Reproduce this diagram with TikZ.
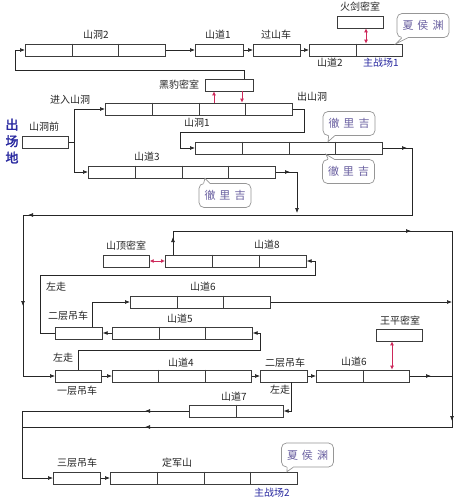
\documentclass[tikz,border=0pt]{standalone}
\usepackage{fontspec}
\setmainfont{Noto Sans CJK SC}
\newfontfamily\cjkbold{Noto Sans CJK SC}[FakeBold=2]
\usetikzlibrary{arrows.meta,calc}
\definecolor{boxc}{RGB}{60,60,60}
\definecolor{redc}{RGB}{205,40,90}
\definecolor{bluec}{RGB}{40,40,160}
\definecolor{callc}{RGB}{150,150,150}
\definecolor{calltxt}{RGB}{105,95,160}
\tikzset{
  >={Latex[length=5pt,width=4pt]},
  box/.style={draw=boxc, fill=white, line width=0.7pt, minimum height=12pt, inner sep=0pt, anchor=west},
  conn/.style={draw=black!85, line width=0.7pt},
  redarr/.style={draw=redc, line width=0.8pt, {Latex[length=4pt,width=4pt]}-{Latex[length=4pt,width=4pt]}},
  redone/.style={draw=redc, line width=0.8pt, -{Latex[length=4pt,width=4pt]}},
  lbl/.style={font=\fontsize{10}{11}\selectfont, text=black!85, inner sep=0pt},
  bluelbl/.style={lbl, text=bluec},
  calloutbox/.style={draw=callc, fill=white, rounded corners=5pt, line width=0.7pt, minimum width=52pt, minimum height=24pt, inner sep=0pt, text=calltxt, font=\fontsize{11}{12}\selectfont},
}
\newcommand{\segbox}[5]{%
  \node[box, minimum width=#4pt] (#1) at (#2,#3) {};
  \foreach \k in {1,...,#5} {\ifnum\k<#5
    \draw[boxc, line width=0.7pt] ($(#1.north west)!\k/#5!(#1.north east)$) -- ($(#1.south west)!\k/#5!(#1.south east)$);
  \fi}%
}
\newcommand{\ctail}[5]{%
  \fill[white] ($(#1)+(#2,#5)$) -- ($(#1)+(#2,0)$) -- (#4) -- ($(#1)+(#3,0)$) -- ($(#1)+(#3,#5)$) -- cycle;
  \draw[callc, line width=0.7pt] ($(#1)+(#2,0)$) -- (#4) -- ($(#1)+(#3,0)$);
}
% mid-line arrow head: #1 coordinate name, #2 dx, #3 dy of the tail start relative to tip
\newcommand{\midtip}[3]{\draw[conn,->] ($(#1)+(#2,#3)$) -- (#1);}
\begin{document}
\begin{tikzpicture}[x=1pt,y=-1pt]
\useasboundingbox (0,0) rectangle (461,500);
\fill[white] (0,0) rectangle (461,500);

% ---------- boxes ----------
\segbox{sd2}{25}{50}{140}{3}
\segbox{sy1}{195}{50}{48}{1}
\segbox{gsc}{253}{50}{47}{1}
\segbox{sy2}{309}{50}{93}{2}
\segbox{hj}{337}{22}{46}{1}
\segbox{hb}{205}{85}{48}{1}
\segbox{sdq}{22}{142}{46}{1}
\segbox{s1a}{105}{109}{187}{4}
\segbox{s1b}{195}{148}{187}{4}
\segbox{s3}{88}{172}{187}{4}
\segbox{sdm}{103}{261}{46}{1}
\segbox{s8}{165}{261}{141}{3}
\segbox{s6}{130}{302}{140}{3}
\segbox{elc1}{55}{333}{47}{1}
\segbox{s5}{112}{333}{140}{3}
\segbox{wp}{376}{335}{46}{1}
\segbox{ylc}{55}{376}{46}{1}
\segbox{s4}{112}{376}{139}{3}
\segbox{elc2}{260}{376}{47}{1}
\segbox{s6b}{316}{376}{93}{2}
\segbox{s7}{189}{411}{94}{2}
\segbox{slc}{53}{478}{47}{1}
\segbox{djs}{110}{478}{187}{4}

% ---------- labels ----------
\node[lbl] (t1) at (96,35) {山洞2};
\node[lbl] (t2) at (218,35) {山道1};
\node[lbl] (t3) at (276,35) {过山车};
\node[lbl] (t4) at (360,7) {火剑密室};
\node[lbl] (t5) at (330,63) {山道2};
\node[bluelbl] (t6) at (381,63) {主战场1};
\node[lbl] (t7) at (179,85) {黑豹密室};
\node[lbl] (t8) at (70,100) {进入山洞};
\node[lbl] (t9) at (44,127) {山洞前};
\node[lbl] (t10) at (312,97) {出山洞};
\node[lbl] (t11) at (197,123) {山洞1};
\node[lbl] (t12) at (147,157) {山道3};
\node[lbl] (t13) at (126,246) {山顶密室};
\node[lbl] (t14) at (267,245) {山道8};
\node[lbl] (t15) at (56,287) {左走};
\node[lbl] (t16) at (203,287) {山道6};
\node[lbl] (t17) at (68,316) {二层吊车};
\node[lbl] (t18) at (180,319) {山道5};
\node[lbl] (t19) at (400,321) {王平密室};
\node[lbl] (t20) at (63,358) {左走};
\node[lbl] (t21) at (181,363) {山道4};
\node[lbl] (t22) at (285,363) {二层吊车};
\node[lbl] (t23) at (354,362) {山道6};
\node[lbl] (t24) at (77,391) {一层吊车};
\node[lbl] (t25) at (280,390) {左走};
\node[lbl] (t26) at (234,397) {山道7};
\node[lbl] (t27) at (77,463) {三层吊车};
\node[lbl] (t28) at (177,463) {定军山};
\node[bluelbl] (t29) at (272,493) {主战场2};
\node[text=bluec, inner sep=0pt, align=center, font=\cjkbold\fontsize{13}{16.5}\selectfont] (t30) at (12,141) {出\\场\\地};

% ---------- connectors ----------
\coordinate (cL1) at (15,70);
\coordinate (hbT) at ($(hb.north west)+(39,0)$);
\draw[conn,->] (hbT) |- (cL1) |- (sd2.west);
\draw[conn,->] (sd2.east) -- (sy1.west);
\draw[conn,->] (sy1.east) -- (gsc.west);
\draw[conn,->] (gsc.east) -- (sy2.west);

\coordinate (br) at ($(sdq.east)+(6,0)$);
\draw[conn] (sdq.east) -- (br);
\draw[conn,->] (br) |- (s1a.west);
\draw[conn,->] (br) |- (s3.west);

\coordinate (cE) at (304,132);
\coordinate (cF) at (180,132);
\draw[conn,->] (s1a.east) -| (cE) -- (cF) |- (s1b.west);

\coordinate (cA) at (412,148);
\coordinate (cB) at (412,215);
\coordinate (cC) at (23,215);
\draw[conn,->] (s1b.east) -- (cA) -- (cB) -- (cC) |- (ylc.west);
\coordinate (m1) at (407,148);
\midtip{m1}{-6}{0}
\coordinate (m2) at (28,215);
\midtip{m2}{6}{0}
\coordinate (m3) at (23,306);
\midtip{m3}{0}{-6}

\coordinate (cG) at (297,213);
\draw[conn,->] (s3.east) -| (cG);
\coordinate (m4) at (290,172);
\midtip{m4}{-6}{0}

\coordinate (s8T) at ($(s8.north west)+(8,0)$);
\coordinate (cR1) at (452,231);
\coordinate (cR2) at (452,427);
\coordinate (cI) at (22,427);
\draw[conn,->] (s8T) |- (cR1) -- (cR2) -- (cI) |- (slc.west);
\coordinate (m5) at (173,237);
\midtip{m5}{0}{6}
\coordinate (m6) at (411,231);
\midtip{m6}{-6}{0}
\coordinate (m7) at (452,421);
\midtip{m7}{0}{-6}
\coordinate (m8) at (145,427);
\midtip{m8}{6}{0}

\coordinate (cH) at (22,411);
\draw[conn] (s7.west) -- (cH) -- (cI);
\coordinate (m9) at (145,411);
\midtip{m9}{6}{0}

\coordinate (cJ) at (40,275);
\coordinate (cK) at (315,275);
\draw[conn,->] (elc1.west) -| (cJ) -- (cK) |- (s8.east);

\coordinate (elc1T) at ($(elc1.north west)+(37,0)$);
\draw[conn,->] (elc1T) |- (s6.west);
\draw[conn,->] (s5.west) -- (elc1.east);
\draw[conn,->] (s6.east) -- (s6.east -| cR1);

\coordinate (cL) at (260,350);
\draw[conn,->] (ylc.north) |- (cL) |- (s5.east);
\draw[conn,->] (ylc.east) -- (s4.west);
\draw[conn,->] (s4.east) -- (elc2.west);
\draw[conn,->] (elc2.east) -- (s6b.west);
\draw[conn] (s6b.east) -- (s6b.east -| cR1);
\coordinate (m10) at (431,376);
\midtip{m10}{-6}{0}

\coordinate (elc2B) at ($(elc2.south west)+(31,0)$);
\draw[conn,->] (elc2B) |- (s7.east);
\draw[conn,->] (slc.east) -- (djs.west);

% ---------- red links ----------
\coordinate (hjA) at ($(hj.south west)+(29,0)$);
\draw[redarr] (hjA) -- (hjA |- sy2.north);
\coordinate (hbU) at ($(hb.south west)+(9,0)$);
\draw[redone] (hbU |- s1a.north) -- (hbU);
\coordinate (hbD) at ($(hb.south west)+(37,0)$);
\draw[redone] (hbD) -- (hbD |- s1a.north);
\draw[redarr] (sdm.east) -- (s8.west);
\coordinate (wpA) at ($(wp.south west)+(16,0)$);
\draw[redarr] (wpA) -- (wpA |- s6b.north);

% ---------- callouts ----------
\node[calloutbox] (cxa) at (423,25.5) {夏\hspace{4pt}侯\hspace{4pt}渊};
\coordinate (tgA) at ($(sy2.north west)+(87,0)$);
\ctail{cxa.south west}{5}{11}{tgA}{-2}
\node[calloutbox] (cxb) at (225,195.5) {徹\hspace{4pt}里\hspace{4pt}吉};
\coordinate (tgB) at ($(s3.south west)+(117,0)$);
\ctail{cxb.north west}{5}{11}{tgB}{2}
\node[calloutbox] (cxc) at (349,123.5) {徹\hspace{4pt}里\hspace{4pt}吉};
\coordinate (tgC) at ($(s1b.north west)+(133,0)$);
\ctail{cxc.south west}{6}{12}{tgC}{-2}
\node[calloutbox] (cxd) at (348.5,171.5) {徹\hspace{4pt}里\hspace{4pt}吉};
\coordinate (tgD) at ($(s1b.south west)+(131,0)$);
\ctail{cxd.north west}{6}{12}{tgD}{2}
\node[calloutbox] (cxe) at (307.5,455) {夏\hspace{4pt}侯\hspace{4pt}渊};
\coordinate (tgE) at ($(djs.north west)+(177,0)$);
\ctail{cxe.south west}{6}{12}{tgE}{-2}
\end{tikzpicture}
\end{document}
